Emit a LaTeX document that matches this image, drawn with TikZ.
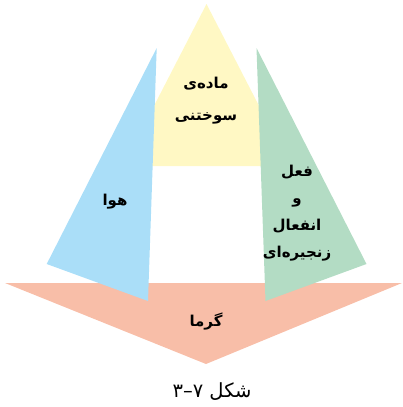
\documentclass[tikz,border=0pt]{standalone}
\usepackage{fontspec}
\newfontfamily\arabicfont[Script=Arabic]{DejaVu Sans}
\TeXXeTstate=1
\definecolor{fuelyellow}{RGB}{255,248,196}
\definecolor{airblue}{RGB}{170,222,248}
\definecolor{chaingreen}{RGB}{179,220,196}
\definecolor{heatpink}{RGB}{248,190,168}
\begin{document}
\begin{tikzpicture}[x=1pt,y=-1pt,
  lbl/.style={font=\arabicfont\bfseries\fontsize{15}{27}\selectfont, align=center, inner sep=0pt},
  captiontext/.style={font=\arabicfont\fontsize{19.5}{22}\selectfont, inner sep=0pt}]
\useasboundingbox (0,0) rectangle (402,407);
% yellow (fuel)
\fill[fuelyellow] (206.5,4) -- (290,166) -- (123,166) -- cycle;
% pink (heat)
\fill[heatpink] (5,283) -- (402,283) -- (206,364) -- cycle;
% blue (air)
\fill[airblue] (156.7,48) -- (148,301) -- (46.7,264) -- cycle;
% green (chain reaction)
\fill[chaingreen] (256.5,48) -- (366.5,264) -- (265.5,301) -- cycle;
% labels
\node[lbl] (fuel) at (206,101) {\beginR ماده‌ی\endR\\[5pt]\beginR سوختنی\endR};
\node[lbl] (air) at (115,202) {\beginR هوا\endR};
\node[lbl] (chain) at (297,213) {\beginR فعل\endR\\\beginR و\endR\\\beginR انفعال\endR\\\beginR زنجیره‌ای\endR};
\node[lbl] (heat) at (206,322) {\beginR گرما\endR};
\node[captiontext] (caption) at (212,392) {\beginR شکل ۷\textendash۳\endR};
\end{tikzpicture}
\end{document}
